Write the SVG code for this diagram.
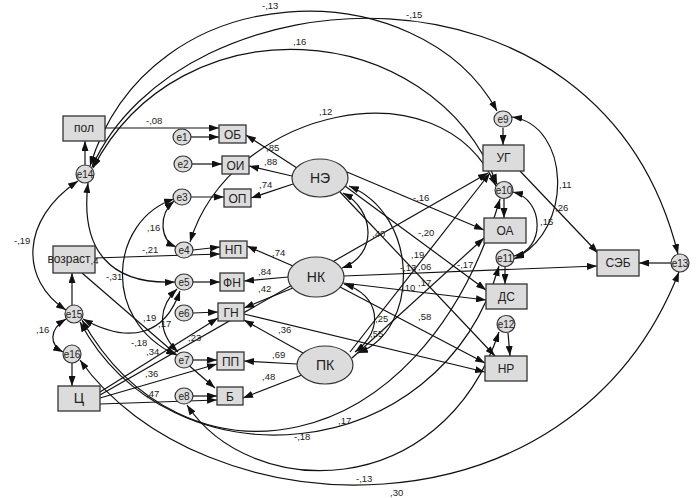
<svg xmlns="http://www.w3.org/2000/svg" width="697" height="498" viewBox="0 0 697 498">
<defs>
<marker id="ar" viewBox="0 0 10 7" markerWidth="10" markerHeight="7" refX="10" refY="3.5" markerUnits="userSpaceOnUse" orient="auto-start-reverse">
<path d="M0,0 L10,3.5 L0,7 z" fill="#111"/>
</marker>
<style>
.c{fill:none;stroke:#111;stroke-width:1.2;marker-end:url(#ar)}
.d{fill:none;stroke:#111;stroke-width:1.2;marker-end:url(#ar);marker-start:url(#ar)}
.b{fill:#dcdcdc;stroke:#333;stroke-width:1.3}
.el{fill:#dcdcdc;stroke:#333;stroke-width:1.2}
.t{font-family:"Liberation Sans",Arial,sans-serif;font-size:12px;fill:#222;text-anchor:middle}
.tl{font-family:"Liberation Sans",Arial,sans-serif;font-size:14px;fill:#222;text-anchor:middle}
.te{font-family:"Liberation Sans",Arial,sans-serif;font-size:10px;fill:#222;text-anchor:middle}
.l{font-family:"Liberation Sans",Arial,sans-serif;font-size:9.5px;fill:#222}
</style>
</defs>
<rect width="697" height="498" fill="#fff"/>
<g id="connectors">
<path class="c" d="M105,128 L219,128"/>
<path class="c" d="M191,137 L219,137"/>
<path class="c" d="M192,164 L222,164"/>
<path class="c" d="M191,197 L224,197"/>
<path class="c" d="M193,250 L220,247"/>
<path class="c" d="M193,282 L220,282"/>
<path class="c" d="M193,313 L218,312"/>
<path class="c" d="M193,360 L217,360"/>
<path class="c" d="M193,396 L217,396"/>
<path class="c" d="M297,168 L246,135"/>
<path class="c" d="M292,176 L249,166"/>
<path class="c" d="M293,184 L251,198"/>
<path class="c" d="M293,266 L247,246"/>
<path class="c" d="M288,277 L244,281"/>
<path class="c" d="M293,288 L244,308"/>
<path class="c" d="M303,353 L244,320"/>
<path class="c" d="M297,364 L244,361"/>
<path class="c" d="M302,375 L243,398"/>
<path class="c" d="M95,258 L220,254"/>
<path class="c" d="M82,273 L215,388"/>
<path class="c" d="M100,392 L218,318"/>
<path class="c" d="M100,398 L217,364"/>
<path class="c" d="M100,404 L217,400"/>
<path class="c" d="M100,395 L488,173"/>
<path class="c" d="M85,165 L85,141"/>
<path class="c" d="M72,305 L72,273"/>
<path class="c" d="M72,363 L72,386"/>
<path class="c" d="M503,128 L503,145"/>
<path class="c" d="M504,199 L504,218"/>
<path class="c" d="M505,267 L505,284"/>
<path class="c" d="M508,333 L510,356"/>
<path class="c" d="M671,263 L639,263"/>
<path class="c" d="M520,171 L598,253"/>
<path class="c" d="M344,276 L597,266"/>
<path class="c" d="M347,172 L484,230"/>
<path class="c" d="M345,186 L486,290"/>
<path class="c" d="M340,192 L495,356"/>
<path class="c" d="M343,283 L486,300"/>
<path class="c" d="M340,287 L485,363"/>
<path class="c" d="M244,314 L485,372"/>
<path class="c" d="M350,352 L490,173"/>
<path class="c" d="M352,358 L484,238"/>
<path class="d" d="M78,181 C20,220 20,280 66,310"/>
<path class="d" d="M66,319 C48,330 50,345 63,352"/>
<path class="d" d="M88,183 C80,250 110,285 175,282"/>
<path class="d" d="M174,201 C158,215 160,240 176,247"/>
<path class="d" d="M90,166 C150,-30 420,-30 497,111"/>
<path class="d" d="M92,167 C180,-30 600,-60 678,254"/>
<path class="d" d="M93,168 C180,0 430,15 497,184"/>
<path class="d" d="M190,242 C230,110 440,60 496,186"/>
<path class="d" d="M512,117 C570,125 575,230 514,259"/>
<path class="d" d="M513,192 C545,200 545,250 514,256"/>
<path class="d" d="M343,193 C375,210 378,255 342,268"/>
<path class="d" d="M349,186 C420,215 420,330 358,353"/>
<path class="d" d="M344,284 C380,295 385,330 355,352"/>
<path class="d" d="M83,319 C130,345 165,335 180,291"/>
<path class="d" d="M178,352 C155,330 160,305 177,289"/>
<path class="d" d="M174,199 C110,220 100,320 176,355"/>
<path class="d" d="M82,320 C180,495 420,470 500,199"/>
<path class="d" d="M80,322 C170,490 440,470 499,266"/>
<path class="d" d="M187,405 C250,500 440,505 499,332"/>
<path class="d" d="M80,360 C200,530 570,550 679,272"/>
</g>
<g id="n-pol"><rect class="b" x="63" y="116" width="42" height="25"/><text class="t" x="84" y="132">пол</text></g>
<g id="n-vozrast"><rect class="b" x="53" y="246" width="42" height="27"/><text class="t" x="69" y="263" font-size="10">возраст</text><text class="l" x="90.5" y="264" font-size="7">,4</text></g>
<g id="n-c"><rect class="b" x="58" y="386" width="42" height="25"/><text class="tl" x="79" y="403">Ц</text></g>
<g id="n-ob"><rect class="b" x="219" y="125" width="27" height="18"/><text class="t" x="232.5" y="138.5">ОБ</text></g>
<g id="n-oi"><rect class="b" x="222" y="156" width="27" height="18"/><text class="t" x="235.5" y="169.5">ОИ</text></g>
<g id="n-op"><rect class="b" x="224" y="189" width="27" height="18"/><text class="t" x="237.5" y="202.5">ОП</text></g>
<g id="n-np"><rect class="b" x="220" y="241" width="27" height="17"/><text class="t" x="233.5" y="254">НП</text></g>
<g id="n-fn"><rect class="b" x="220" y="273" width="24" height="18"/><text class="t" x="232" y="286.5">ФН</text></g>
<g id="n-gn"><rect class="b" x="218" y="303" width="26" height="18"/><text class="t" x="231" y="316.5">ГН</text></g>
<g id="n-pp"><rect class="b" x="217" y="352" width="27" height="18"/><text class="t" x="230.5" y="365.5">ПП</text></g>
<g id="n-b"><rect class="b" x="217" y="387" width="26" height="18"/><text class="t" x="230" y="400.5">Б</text></g>
<g id="n-ug"><rect class="b" x="483" y="145" width="41" height="26"/><text class="t" x="503.5" y="162">УГ</text></g>
<g id="n-oa"><rect class="b" x="484" y="218" width="42" height="25"/><text class="t" x="505" y="235">ОА</text></g>
<g id="n-ds"><rect class="b" x="486" y="284" width="41" height="25"/><text class="t" x="506.5" y="301">ДС</text></g>
<g id="n-nr"><rect class="b" x="485" y="356" width="42" height="25"/><text class="t" x="506" y="373">НР</text></g>
<g id="n-seb"><rect class="b" x="597" y="250" width="42" height="26"/><text class="t" x="618" y="267">СЭБ</text></g>
<g id="n-ne"><ellipse class="el" cx="320" cy="178" rx="28" ry="19"/><text class="tl" x="320" y="183">НЭ</text></g>
<g id="n-nk"><ellipse class="el" cx="316" cy="277" rx="28" ry="20"/><text class="tl" x="316" y="282">НК</text></g>
<g id="n-pk"><ellipse class="el" cx="325" cy="365" rx="28" ry="19"/><text class="tl" x="325" y="370">ПК</text></g>
<g id="n-e1"><ellipse class="el" cx="182" cy="137" rx="9" ry="8"/><text class="te" x="182" y="141">e1</text></g>
<g id="n-e2"><ellipse class="el" cx="183" cy="164" rx="9" ry="8"/><text class="te" x="183" y="168">e2</text></g>
<g id="n-e3"><ellipse class="el" cx="182" cy="197" rx="9" ry="8"/><text class="te" x="182" y="201">e3</text></g>
<g id="n-e4"><ellipse class="el" cx="184" cy="250" rx="9" ry="8"/><text class="te" x="184" y="254">e4</text></g>
<g id="n-e5"><ellipse class="el" cx="184" cy="282" rx="9" ry="8"/><text class="te" x="184" y="286">e5</text></g>
<g id="n-e6"><ellipse class="el" cx="184" cy="313" rx="9" ry="8"/><text class="te" x="184" y="317">e6</text></g>
<g id="n-e7"><ellipse class="el" cx="184" cy="360" rx="9" ry="8"/><text class="te" x="184" y="364">e7</text></g>
<g id="n-e8"><ellipse class="el" cx="184" cy="396" rx="9" ry="8"/><text class="te" x="184" y="400">e8</text></g>
<g id="n-e9"><ellipse class="el" cx="503" cy="119" rx="9" ry="8"/><text class="te" x="503" y="123">e9</text></g>
<g id="n-e10"><ellipse class="el" cx="504" cy="190" rx="9" ry="8.5"/><text class="te" x="504" y="194">e10</text></g>
<g id="n-e11"><ellipse class="el" cx="505" cy="258" rx="9" ry="8.5"/><text class="te" x="505" y="262">e11</text></g>
<g id="n-e12"><ellipse class="el" cx="506" cy="324" rx="9" ry="8.5"/><text class="te" x="506" y="328">e12</text></g>
<g id="n-e13"><ellipse class="el" cx="680" cy="263" rx="9" ry="9"/><text class="te" x="680" y="267">e13</text></g>
<g id="n-e14"><ellipse class="el" cx="85" cy="174" rx="9" ry="9"/><text class="te" x="85" y="178">e14</text></g>
<g id="n-e15"><ellipse class="el" cx="74" cy="314" rx="9" ry="9"/><text class="te" x="74" y="318">e15</text></g>
<g id="n-e16"><ellipse class="el" cx="72" cy="354" rx="9" ry="9"/><text class="te" x="72" y="358">e16</text></g>
<g id="labels">
<text class="l" x="146" y="124">-,08</text>
<text class="l" x="266" y="151">,85</text>
<text class="l" x="264" y="165">,88</text>
<text class="l" x="259" y="188">,74</text>
<text class="l" x="272" y="256">,74</text>
<text class="l" x="258" y="275">,84</text>
<text class="l" x="258" y="292">,42</text>
<text class="l" x="278" y="333">,36</text>
<text class="l" x="272" y="358">,69</text>
<text class="l" x="262" y="380">,48</text>
<text class="l" x="142" y="253">-,21</text>
<text class="l" x="106" y="280">-,31</text>
<text class="l" x="147" y="231">,16</text>
<text class="l" x="14" y="244">-,19</text>
<text class="l" x="36" y="333">,16</text>
<text class="l" x="143" y="321">,19</text>
<text class="l" x="158" y="327">,17</text>
<text class="l" x="188" y="341">,23</text>
<text class="l" x="131" y="346">-,18</text>
<text class="l" x="146" y="355">,34</text>
<text class="l" x="145" y="377">,36</text>
<text class="l" x="146" y="397">,47</text>
<text class="l" x="372" y="237">,40</text>
<text class="l" x="375" y="322">,25</text>
<text class="l" x="370" y="337">,55</text>
<text class="l" x="413" y="201">-,16</text>
<text class="l" x="418" y="236">-,20</text>
<text class="l" x="411" y="258">,19</text>
<text class="l" x="400" y="271">-,13</text>
<text class="l" x="418" y="270">,06</text>
<text class="l" x="457" y="268">-,17</text>
<text class="l" x="402" y="291">,10</text>
<text class="l" x="418" y="286">,17</text>
<text class="l" x="418" y="320">,58</text>
<text class="l" x="559" y="188">,11</text>
<text class="l" x="555" y="211">,26</text>
<text class="l" x="540" y="225">,15</text>
<text class="l" x="262" y="9">-,13</text>
<text class="l" x="406" y="18">-,15</text>
<text class="l" x="293" y="45">,16</text>
<text class="l" x="319" y="115">,12</text>
<text class="l" x="338" y="424">,17</text>
<text class="l" x="294" y="440">-,18</text>
<text class="l" x="356" y="482">-,13</text>
<text class="l" x="390" y="496">,30</text>
</g>
</svg>
